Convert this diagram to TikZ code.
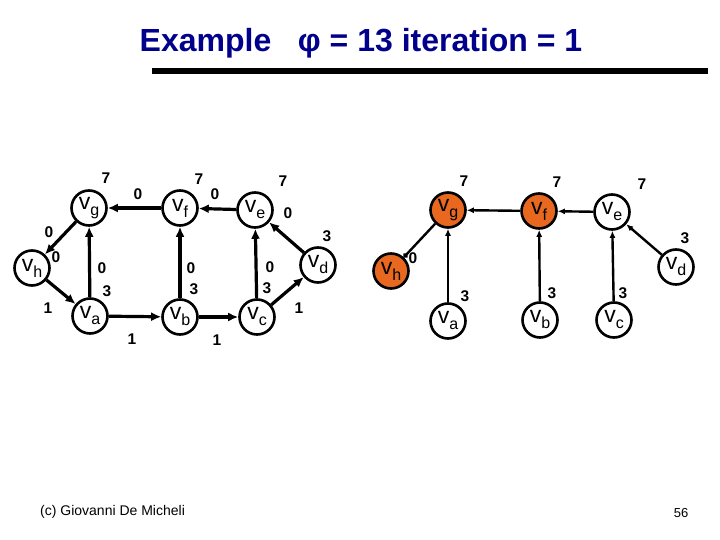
\documentclass[tikz,border=0pt]{standalone}
\usepackage{fontspec}
\setmainfont{Liberation Sans}
\usetikzlibrary{arrows.meta}
\definecolor{titleblue}{RGB}{0,0,140}
\definecolor{nodeorange}{RGB}{232,104,32}
\newcommand{\vlab}[1]{{\fontsize{23}{23}\selectfont v}\raisebox{-6pt}{\fontsize{16}{16}\selectfont #1}}
\begin{document}
\begin{tikzpicture}[x=1pt,y=-1pt,
  vnode/.style={circle,draw,line width=2.6pt,minimum size=35pt,inner sep=0pt},
  onode/.style={vnode,fill=nodeorange},
  wt/.style={font=\bfseries\fontsize{15.5}{15.5}\selectfont,inner sep=0pt},
  edgeL/.style={line width=3.2pt,-{Latex[length=10pt,width=9pt]}},
  edgeR/.style={line width=2.4pt,-{Latex[length=7pt,width=6pt]}}]
\useasboundingbox (0,0) rectangle (720,540);
% title
\node[text=titleblue,font=\bfseries\fontsize{32}{32}\selectfont] (title) at (361,43) {Example\ \ \ φ = 13 iteration = 1};
\fill (152,68) rectangle (708,74);
% left graph
\node[vnode] (vg) at (89,208) {\vlab{g}};
\node[vnode] (vf) at (180,208) {\vlab{f}};
\node[vnode] (ve) at (255,210) {\vlab{e}};
\node[vnode] (vh) at (32,268) {\vlab{h}};
\node[vnode] (vd) at (318,265) {\vlab{d}};
\node[vnode] (va) at (90,316) {\vlab{a}};
\node[vnode] (vb) at (180,317) {\vlab{b}};
\node[vnode] (vc) at (257,317) {\vlab{c}};
\draw[edgeL] (vh) -- (va);
\draw[edgeL] (va) -- (vg);
\draw[edgeL] (vg) -- (vh);
\draw[edgeL] (va) -- (vb);
\draw[edgeL] (vb) -- (vf);
\draw[edgeL] (vf) -- (vg);
\draw[edgeL] (vb) -- (vc);
\draw[edgeL] (vc) -- (ve);
\draw[edgeL] (ve) -- (vf);
\draw[edgeL] (vc) -- (vd);
\draw[edgeL] (vd) -- (ve);
\node[wt] (l1) at (106,178) {7};
\node[wt] (l2) at (138,194) {0};
\node[wt] (l3) at (199,179) {7};
\node[wt] (l4) at (215,194) {0};
\node[wt] (l5) at (283,181) {7};
\node[wt] (l6) at (288,213) {0};
\node[wt] (l7) at (327,236) {3};
\node[wt] (l8) at (49,232) {0};
\node[wt] (l9) at (56,257) {0};
\node[wt] (l10) at (102,268) {0};
\node[wt] (l11) at (107,291) {3};
\node[wt] (l12) at (48,308) {1};
\node[wt] (l13) at (191,268) {0};
\node[wt] (l14) at (194,289) {3};
\node[wt] (l15) at (270,267) {0};
\node[wt] (l16) at (267,288) {3};
\node[wt] (l17) at (132,339) {1};
\node[wt] (l18) at (217,340) {1};
\node[wt] (l19) at (299,308) {1};
% right graph
\node[onode] (rg) at (448,210) {\vlab{g}};
\node[onode] (rf) at (539,211) {\vlab{f}};
\node[vnode] (re) at (612,212) {\vlab{e}};
\node[onode] (rh) at (391,271) {\vlab{h}};
\node[vnode] (rd) at (676,267) {\vlab{d}};
\node[vnode] (ra) at (448,321) {\vlab{a}};
\node[vnode] (rb) at (540,320) {\vlab{b}};
\node[vnode] (rc) at (614,320) {\vlab{c}};
\draw[line width=2.4pt,-{Circle[length=5pt]}] (rg) -- (rh);
\draw[edgeR] (ra) -- (rg);
\draw[edgeR] (rf) -- (rg);
\draw[edgeR] (rb) -- (rf);
\draw[edgeR] (re) -- (rf);
\draw[edgeR] (rc) -- (re);
\draw[edgeR] (rd) -- (re);
\node[wt] (r1) at (464,181) {7};
\node[wt] (r2) at (413,258) {0};
\node[wt] (r3) at (465,296) {3};
\node[wt] (r4) at (557,182) {7};
\node[wt] (r5) at (552,293) {3};
\node[wt] (r6) at (642,184) {7};
\node[wt] (r7) at (685,238) {3};
\node[wt] (r8) at (623,293) {3};
% footer
\node[font=\fontsize{14}{14}\selectfont,anchor=west,inner sep=0pt] (foot) at (40,512) {(c) Giovanni De Micheli};
\node[font=\fontsize{13}{13}\selectfont,inner sep=0pt] (page) at (681,513) {56};
\end{tikzpicture}
\end{document}
